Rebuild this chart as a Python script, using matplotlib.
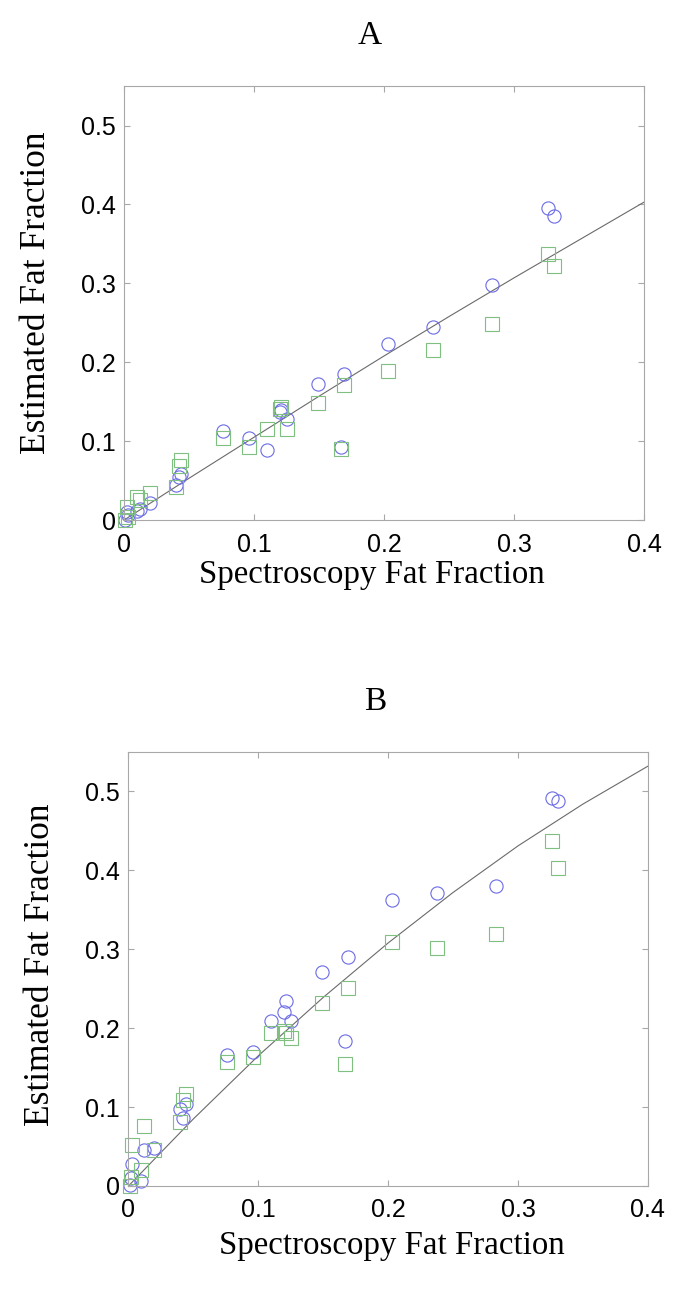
import numpy as np
import matplotlib
matplotlib.use('Agg')
import matplotlib.pyplot as plt
from matplotlib.ticker import FuncFormatter

# spectroscopy fat fraction (reference), one entry per subject
spectro = [0.001, 0.002, 0.003, 0.010, 0.012, 0.020, 0.040, 0.042, 0.044,
           0.076, 0.096, 0.110, 0.120, 0.121, 0.125, 0.149, 0.167, 0.169,
           0.203, 0.238, 0.283, 0.326, 0.331]

# panel A estimates
a_circles = [0.000, 0.010, 0.006, 0.012, 0.014, 0.022, 0.044, 0.055, 0.059,
             0.113, 0.104, 0.089, 0.137, 0.139, 0.128, 0.172, 0.093, 0.185,
             0.223, 0.245, 0.298, 0.395, 0.385]
a_squares = [0.000, 0.016, 0.004, 0.029, 0.026, 0.034, 0.042, 0.069, 0.076,
             0.104, 0.093, 0.115, 0.141, 0.143, 0.115, 0.149, 0.090, 0.171,
             0.189, 0.215, 0.249, 0.337, 0.322]

# panel B estimates
b_circles = [0.001, 0.010, 0.028, 0.006, 0.046, 0.048, 0.098, 0.086, 0.104,
             0.166, 0.170, 0.209, 0.221, 0.235, 0.209, 0.271, 0.184, 0.290,
             0.362, 0.371, 0.380, 0.492, 0.488]
b_squares = [0.000, 0.012, 0.052, 0.020, 0.076, 0.046, 0.081, 0.109, 0.117,
             0.157, 0.164, 0.194, 0.196, 0.194, 0.188, 0.232, 0.155, 0.251,
             0.309, 0.301, 0.319, 0.437, 0.403]

# fitted curves
fit_x = [0, 0.05, 0.1, 0.15, 0.2, 0.25, 0.3, 0.35, 0.4]
fit_a = [0, 0.053, 0.105, 0.157, 0.208, 0.258, 0.307, 0.355, 0.403]
fit_b = [0, 0.085, 0.165, 0.239, 0.308, 0.372, 0.431, 0.484, 0.532]

xticks = [0, 0.1, 0.2, 0.3, 0.4]
yticks = [0, 0.1, 0.2, 0.3, 0.4, 0.5]

serif = 'Liberation Serif'
sans = 'Liberation Sans'


def fmt(v, pos):
    if abs(v) < 1e-9:
        return '0'
    return '%g' % v


def panel(ax, circ, sq, fit, title, tx, xlx, xpad, yly):
    ax.plot(fit_x, fit, color='#6a6a6a', lw=0.8)
    ax.plot(spectro, circ, 'o', mfc='none', mec='#6b6be6', ms=9.5, mew=0.8,
            clip_on=False)
    ax.plot(spectro, sq, 's', mfc='none', mec='#7fbf7f', ms=9.5, mew=0.8,
            clip_on=False)
    ax.set_xlim(0, 0.4)
    ax.set_ylim(0, 0.55)
    ax.set_xticks(xticks)
    ax.set_yticks(yticks)
    ax.xaxis.set_major_formatter(FuncFormatter(fmt))
    ax.yaxis.set_major_formatter(FuncFormatter(fmt))
    for s in ax.spines.values():
        s.set_color('#a8a8a8')
        s.set_linewidth(0.8)
    ax.tick_params(direction='in', top=True, right=True, length=4,
                   color='#a8a8a8', labelsize=18)
    ax.tick_params(axis='x', pad=9)
    ax.tick_params(axis='y', pad=6)
    for lab in ax.get_xticklabels() + ax.get_yticklabels():
        lab.set_family(sans)
    ax.set_xlabel('Spectroscopy Fat Fraction', family=serif, fontsize=23.7,
                  labelpad=xpad, x=xlx)
    ax.set_ylabel('Estimated Fat Fraction', family=serif, fontsize=25.5,
                  labelpad=20, y=yly)
    ax.set_title(title, family=serif, fontsize=24, pad=30, x=tx)


fig = plt.figure(figsize=(6.87, 12.97), dpi=100)
ax1 = fig.add_axes([0.1805, 0.599, 0.757, 0.3346])
ax2 = fig.add_axes([0.187, 0.0856, 0.756, 0.3346])

panel(ax1, a_circles, a_squares, fit_a, 'A', 0.473, 0.477, 2, 0.525)
panel(ax2, b_circles, b_squares, fit_b, 'B', 0.4745, 0.507, 5.5, 0.509)

fig.savefig('out.png', dpi=100)
